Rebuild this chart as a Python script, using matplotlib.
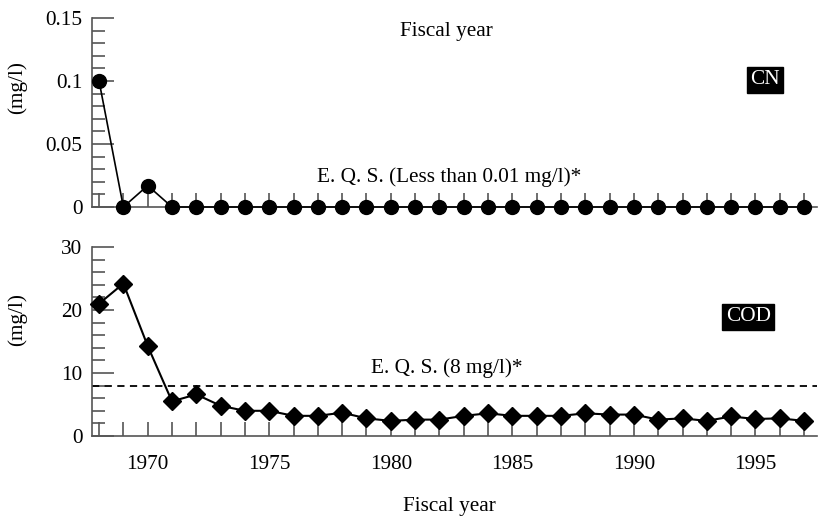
import matplotlib
matplotlib.use('Agg')
import matplotlib.pyplot as plt
from matplotlib.ticker import MultipleLocator
import numpy as np

plt.rcParams['font.family'] = ['Liberation Serif', 'DejaVu Serif']
plt.rcParams['font.size'] = 15.3

# Data
years = list(range(1968, 1998))
cn = [0.1, 0.0, 0.017] + [0.0] * 27
cod = [21.0, 24.2, 14.3, 5.5, 6.6, 4.8, 4.0, 4.0, 3.2, 3.2,
       3.7, 2.8, 2.4, 2.6, 2.6, 3.2, 3.6, 3.2, 3.2, 3.2,
       3.6, 3.4, 3.4, 2.6, 2.8, 2.4, 3.1, 2.7, 2.8, 2.4]
cn_eqs_label = 'E. Q. S. (Less than 0.01 mg/l)*'
cod_eqs = 8
cod_eqs_label = 'E. Q. S. (8 mg/l)*'

W, H = 821, 518
fig = plt.figure(figsize=(W / 100, H / 100), dpi=100)

spine_col = '#555555'
left, right = 92 / W, 817 / W
ax1 = fig.add_axes([left, 1 - 207 / H, right - left, 189 / H])
ax2 = fig.add_axes([left, 1 - 436 / H, right - left, 189 / H])

for ax in (ax1, ax2):
    ax.spines['top'].set_visible(False)
    ax.spines['right'].set_visible(False)
    for s in ('left', 'bottom'):
        ax.spines[s].set_color(spine_col)
        ax.spines[s].set_linewidth(1.2)
    ax.set_xlim(1967.71, 1997.53)
    ax.xaxis.set_major_locator(MultipleLocator(5))
    ax.xaxis.set_minor_locator(MultipleLocator(1))
    ax.tick_params(axis='x', which='both', direction='in', length=10,
                   width=1.2, color=spine_col, pad=14)
    ax.tick_params(axis='y', which='major', direction='in', length=16,
                   width=1.2, color=spine_col, pad=7)
    ax.tick_params(axis='y', which='minor', direction='in', length=9,
                   width=1.2, color=spine_col)

# CN panel
ax1.plot(years, cn, color='black', lw=1.2, marker='o', ms=10, zorder=3,
         clip_on=False)
ax1.set_ylim(0, 0.15)
ax1.set_yticks([0, 0.05, 0.1, 0.15])
ax1.set_yticklabels(['0', '0.05', '0.1', '0.15'])
ax1.yaxis.set_minor_locator(MultipleLocator(0.01))
ax1.tick_params(axis='x', labelbottom=False)
ax1.text(1982.4, 0.0238, cn_eqs_label, ha='center', va='center')
ax1.text(1982.3, 0.139, 'Fiscal year', ha='center', va='center')
ax1.text(0.928, 0.672, 'CN', transform=ax1.transAxes, color='white',
         ha='center', va='center',
         bbox=dict(facecolor='black', edgecolor='black', pad=2.5))

# COD panel
ax2.plot(years, cod, color='black', lw=1.5, marker='D', ms=9, zorder=3,
         clip_on=False)
ax2.axhline(cod_eqs, color='black', lw=1.3, ls=(0, (4, 3)))
ax2.set_ylim(0, 30)
ax2.set_yticks([0, 10, 20, 30])
ax2.yaxis.set_minor_locator(MultipleLocator(2))
ax2.text(1982.3, 10.8, cod_eqs_label, ha='center', va='center')
ax2.text(0.905, 0.63, 'COD', transform=ax2.transAxes, color='white',
         ha='center', va='center',
         bbox=dict(facecolor='black', edgecolor='black', pad=2.5))

fig.text(17 / W, 1 - 88 / H, '(mg/l)', rotation=90, ha='center', va='center')
fig.text(17 / W, 1 - 320 / H, '(mg/l)', rotation=90, ha='center', va='center')
fig.text(449 / W, 1 - 507 / H, 'Fiscal year', ha='center', va='center')

fig.savefig('out.png', dpi=100)
